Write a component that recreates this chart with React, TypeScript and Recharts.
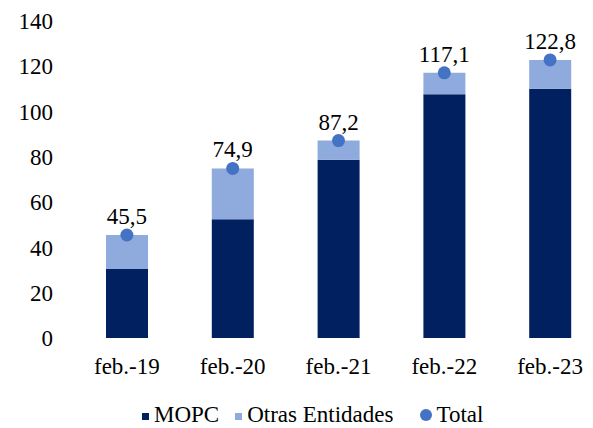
import {
  ComposedChart,
  Bar,
  Line,
  XAxis,
  YAxis,
  Legend,
  LabelList,
} from "recharts";

const categories = ["feb.-19", "feb.-20", "feb.-21", "feb.-22", "feb.-23"];
const mopc = [30.5, 52.5, 78.7, 107.7, 110.1];
const otras = [15.0, 22.4, 8.5, 9.4, 12.7];
const total = [45.5, 74.9, 87.2, 117.1, 122.8];
const yTicks = [0, 20, 40, 60, 80, 100, 120, 140];

const FONT = "Liberation Serif, Tinos, Times New Roman, DejaVu Serif, serif";
const DARK = "#002060";
const LIGHT = "#8FAADC";
const DOT = "#4472C4";

const chartData = categories.map((cat, i) => ({
  cat,
  mopc: mopc[i],
  otras: otras[i],
  total: total[i],
}));

function MyLegend() {
  return (
    <div
      style={{
        display: "flex",
        alignItems: "flex-end",
        height: 33,
        paddingLeft: 142,
        paddingBottom: 2,
        boxSizing: "border-box",
        fontFamily: FONT,
        fontSize: 23,
        lineHeight: "22px",
        color: "#000",
      }}
    >
      <span style={{ width: 7, height: 7, background: DARK, display: "inline-block", marginRight: 5, marginBottom: 6 }} />
      <span style={{ marginRight: 16 }}>MOPC</span>
      <span style={{ width: 7, height: 7, background: LIGHT, display: "inline-block", marginRight: 5, marginBottom: 6 }} />
      <span style={{ marginRight: 27 }}>Otras Entidades</span>
      <span style={{ width: 12, height: 12, borderRadius: 6, background: DOT, display: "inline-block", marginRight: 4, marginBottom: 5 }} />
      <span>Total</span>
    </div>
  );
}

export default function App() {
  return (
    <div
      style={{
        position: "fixed",
        left: 0,
        top: 0,
        width: 593,
        height: 428,
        overflow: "hidden",
        background: "#fff",
        fontFamily: FONT,
      }}
    >
      <ComposedChart
        width={615}
        height={428}
        data={chartData}
        margin={{ top: 21, right: 12, bottom: 0, left: 0 }}
        style={{ fontFamily: FONT }}
      >
        <XAxis
          dataKey="cat"
          axisLine={false}
          tickLine={false}
          tickMargin={14}
          height={57}
          interval={0}
          tick={{ fontFamily: FONT, fontSize: 23, fill: "#000" }}
        />
        <YAxis
          domain={[0, 140]}
          ticks={yTicks}
          axisLine={false}
          tickLine={false}
          tickMargin={15}
          width={74}
          tick={{ fontFamily: FONT, fontSize: 23, fill: "#000" }}
        />
        <Legend verticalAlign="bottom" height={33} content={<MyLegend />} />
        <Bar dataKey="mopc" stackId="a" fill={DARK} barSize={42} isAnimationActive={false} />
        <Bar dataKey="otras" stackId="a" fill={LIGHT} barSize={42} isAnimationActive={false} />
        <Line
          dataKey="total"
          stroke="none"
          dot={{ r: 6.5, fill: DOT, stroke: "none" }}
          activeDot={false}
          isAnimationActive={false}
        >
          <LabelList
            dataKey="total"
            position="top"
            offset={11}
            formatter={(v: number) => v.toFixed(1).replace(".", ",")}
            style={{ fontFamily: FONT, fontSize: 23, fill: "#000" }}
          />
        </Line>
      </ComposedChart>
    </div>
  );
}
